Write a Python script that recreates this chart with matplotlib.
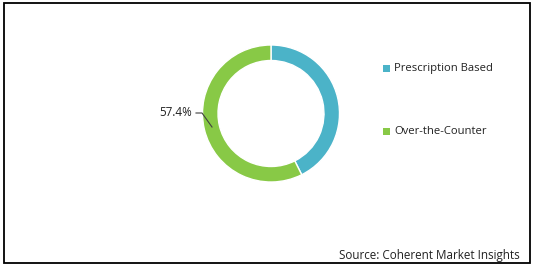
import matplotlib
matplotlib.use('Agg')
import matplotlib.pyplot as plt
from matplotlib.patches import Rectangle

segments = ['Prescription Based', 'Over-the-Counter']
shares = [42.6, 57.4]
colors = ['#4BB3C8', '#88C946']

plt.rcParams['font.family'] = ['Open Sans', 'DejaVu Sans']

fig = plt.figure(figsize=(5.35, 2.70), dpi=100)
ax = fig.add_axes([0, 0, 1, 1])

wedges, _ = ax.pie(shares, colors=colors, startangle=90, counterclock=False,
                   center=(271, 156.5), radius=68.5,
                   wedgeprops=dict(width=15.5, edgecolor='white', linewidth=1))

# pie() resets the limits, so set them afterwards
ax.set_xlim(0, 535)
ax.set_ylim(0, 270)
ax.set_aspect('equal')
ax.axis('off')

# frame around the chart
ax.add_patch(Rectangle((4, 7), 526, 260, fill=False, edgecolor='black', linewidth=1.3))

# label for the larger slice
ax.plot([196, 202, 212], [157, 157, 143], color='#404040', linewidth=0.8)
ax.text(192, 157, f'{shares[1]}%', ha='right', va='center', fontsize=8.4, color='#222222')

# legend
for i, (name, c) in enumerate(zip(segments, colors)):
    y = 202 - i * 63
    ax.add_patch(Rectangle((383, y - 3.5), 7, 7, color=c, linewidth=0))
    ax.text(394, y, name, ha='left', va='center', fontsize=8.1, color='#222222')

ax.text(520, 15, 'Source: Coherent Market Insights', ha='right', va='center',
        fontsize=8.4, color='#222222')

fig.savefig('out.png', dpi=100)
